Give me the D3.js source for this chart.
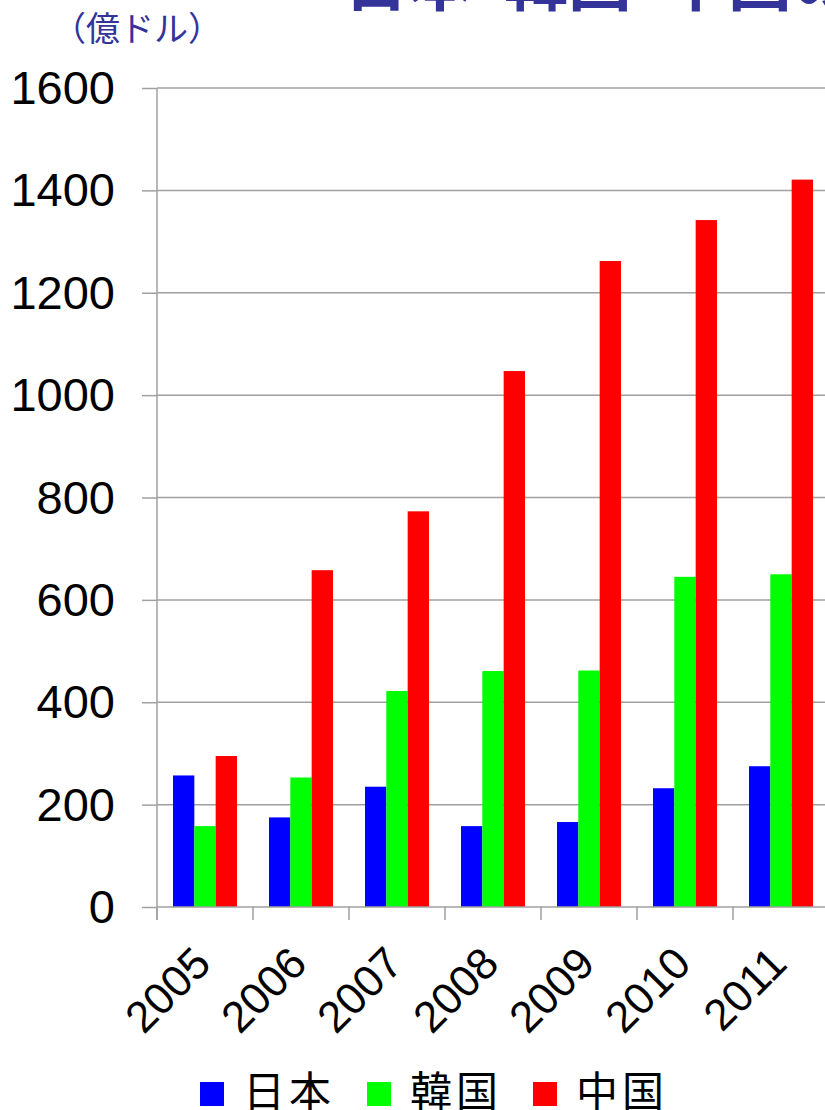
<!DOCTYPE html>
<html>
<head>
<meta charset="utf-8">
<script src="https://cdn.jsdelivr.net/npm/d3@7"></script>
<style>
  html, body { margin: 0; padding: 0; background: #fff; }
  svg { display: block; }
</style>
</head>
<body>
<script>
// ---- data ----
const years = ["2005", "2006", "2007", "2008", "2009", "2010", "2011"];
const seriesNames = ["日本", "韓国", "中国"];
const japan = [257, 175, 235, 158, 166, 232, 275];
const korea = [158, 253, 422, 461, 462, 645, 650];
const china = [295, 658, 773, 1047, 1262, 1342, 1421];
const yTicks = [0, 200, 400, 600, 800, 1000, 1200, 1400, 1600];
const colors = ["#0000ff", "#00ff00", "#ff0000"];
const titleText = "日本･韓国･中国の";
const unitText = "（億ドル）";

const seriesValues = [japan, korea, china];

const W = 825, H = 1110;
const svg = d3.select("body").append("svg")
  .attr("width", W).attr("height", H);

svg.append("rect").attr("width", W).attr("height", H).attr("fill", "#fff");

const plotLeft = 157, plotRight = 829, plotTop = 88, plotBottom = 907;

const y = d3.scaleLinear().domain([0, 1600]).range([plotBottom, plotTop]);
const x0 = d3.scaleBand().domain(years).range([plotLeft, plotRight])
  .paddingInner(1/3).paddingOuter(1/6);
const x1 = d3.scaleBand().domain(seriesNames).range([0, x0.bandwidth()]);

const gridColor = "#a0a0a0";

// gridlines
svg.append("g").selectAll("line").data(yTicks.filter(d => d > 0)).join("line")
  .attr("x1", plotLeft).attr("x2", W)
  .attr("y1", d => y(d)).attr("y2", d => y(d))
  .attr("stroke", gridColor).attr("stroke-width", 1.5);

// bars
const g = svg.append("g");
seriesNames.forEach((s, si) => {
  g.append("g").selectAll("rect").data(years).join("rect")
    .attr("x", d => x0(d) + x1(s))
    .attr("y", (d, i) => y(seriesValues[si][i]))
    .attr("width", x1.bandwidth())
    .attr("height", (d, i) => y(0) - y(seriesValues[si][i]))
    .attr("fill", colors[si]);
});

// y axis
const yAxis = d3.axisLeft(y).tickValues(yTicks).tickSize(15).tickPadding(0)
  .tickFormat(d3.format("d"));
const ya = svg.append("g").attr("transform", `translate(${plotLeft},0)`).call(yAxis);
ya.select(".domain").remove();
ya.selectAll(".tick line").attr("stroke", gridColor).attr("stroke-width", 1.5);
ya.selectAll(".tick text")
  .attr("x", -42)
  .attr("dy", "0.33em")
  .attr("fill", "#000")
  .style("font-family", "'Liberation Sans', Arial, sans-serif")
  .style("font-size", "47px");

// y axis line
svg.append("line").attr("x1", plotLeft).attr("x2", plotLeft)
  .attr("y1", plotTop).attr("y2", plotBottom + 13)
  .attr("stroke", gridColor).attr("stroke-width", 1.5);

// x axis baseline
svg.append("line").attr("x1", plotLeft).attr("x2", W)
  .attr("y1", plotBottom).attr("y2", plotBottom)
  .attr("stroke", gridColor).attr("stroke-width", 1.5);

// x category boundary ticks
const step = x0.step();
svg.append("g").selectAll("line").data(years).join("line")
  .attr("x1", d => x0(d) + x0.bandwidth() / 2 - step / 2)
  .attr("x2", d => x0(d) + x0.bandwidth() / 2 - step / 2)
  .attr("y1", plotBottom).attr("y2", plotBottom + 13)
  .attr("stroke", gridColor).attr("stroke-width", 1.5);

// x labels rotated
svg.append("g").selectAll("text").data(years).join("text")
  .attr("transform", d => `translate(${x0(d) + x0.bandwidth() / 2 + 8},${plotBottom + 59}) rotate(-45)`)
  .attr("text-anchor", "end")
  .attr("fill", "#000")
  .style("font-family", "'Liberation Sans', Arial, sans-serif")
  .style("font-size", "44px")
  .text(d => d);

// title (cut off at top, as in the reference)
svg.append("text")
  .attr("x", 344).attr("y", 5)
  .attr("fill", "#333399")
  .style("font-family", "'Noto Sans CJK JP', sans-serif")
  .style("font-weight", "bold")
  .style("font-size", "64px")
  .text(titleText);

// unit label
svg.append("text")
  .attr("x", 52).attr("y", 41)
  .attr("fill", "#333399")
  .style("font-family", "'Noto Sans CJK JP', sans-serif")
  .style("font-size", "34px")
  .text(unitText);

// legend
const legendX = [200, 367, 533];
const lg = svg.append("g");
seriesNames.forEach((s, i) => {
  lg.append("rect")
    .attr("x", legendX[i]).attr("y", 1082)
    .attr("width", 24).attr("height", 24)
    .attr("fill", colors[i]);
  lg.append("text")
    .attr("x", legendX[i] + 43).attr("y", 1107)
    .attr("fill", "#000")
    .style("font-family", "'Noto Sans CJK JP', sans-serif")
    .style("font-size", "42px")
    .style("letter-spacing", "4px")
    .text(s);
});
</script>
</body>
</html>
